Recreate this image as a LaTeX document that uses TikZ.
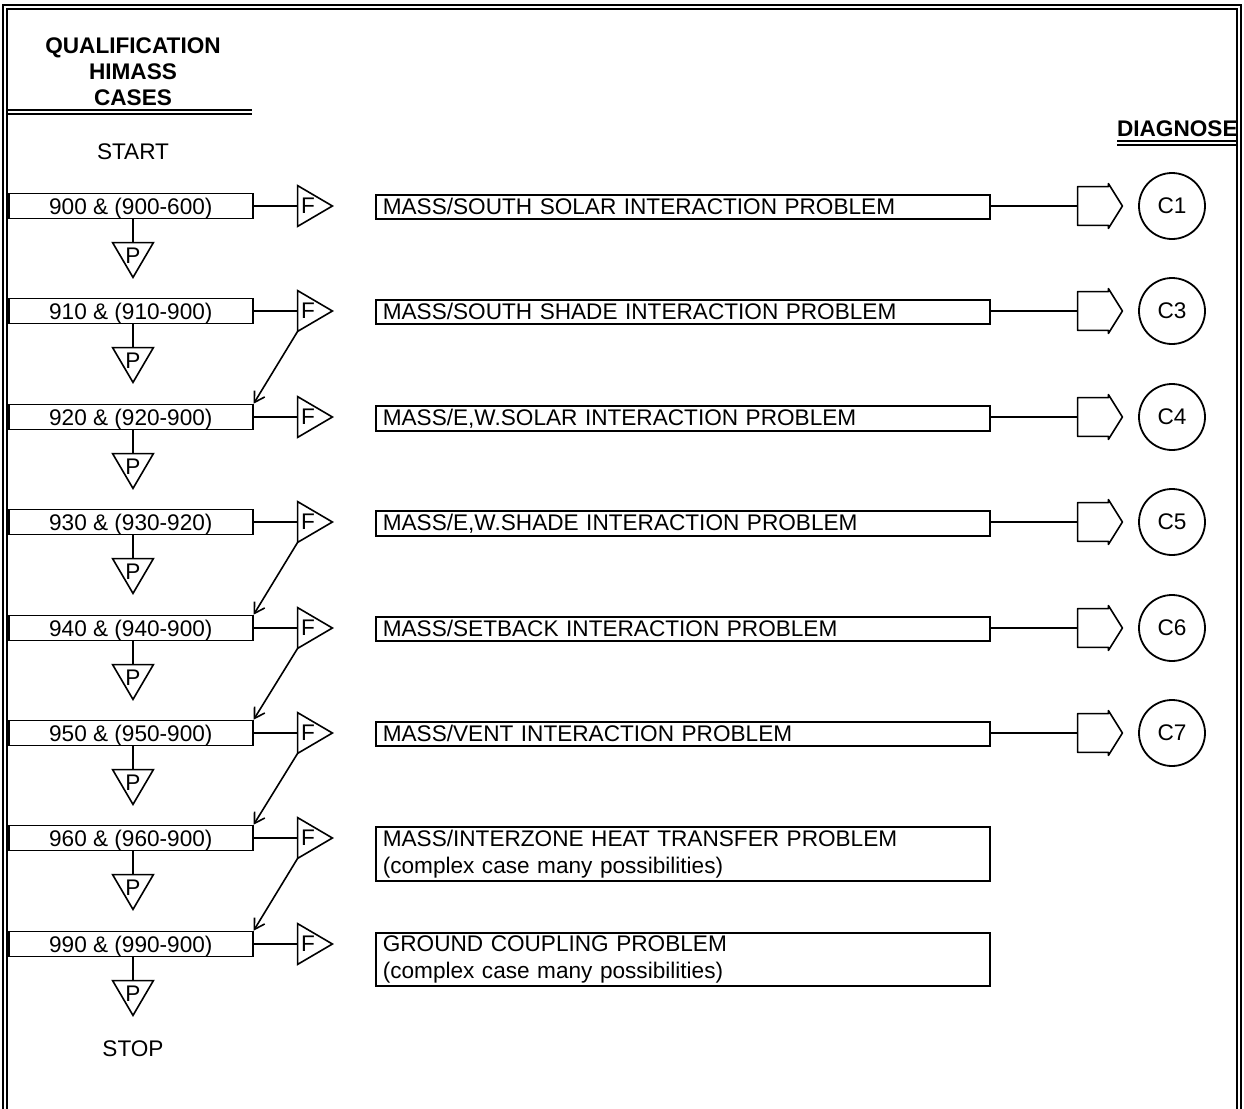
\documentclass[tikz,border=0pt]{standalone}
\usepackage{fontspec}
\setmainfont{Liberation Sans}
\usetikzlibrary{arrows.meta}
\newcommand{\chartfont}{\fontsize{11.3}{13.5}\selectfont}

\begin{document}
\begin{tikzpicture}[
    x=0.5pt, y=-0.5pt,
    every node/.style={font=\chartfont},
    casebox/.style={draw, line width=0.8pt, minimum width=122pt, minimum height=12.5pt, inner sep=0pt, text height=8pt, text depth=0pt, anchor=west},
    probbox/.style={draw, line width=0.8pt, anchor=north west, text width=300pt, inner xsep=3.5pt, inner ysep=1.5pt, minimum height=12pt, align=left},
    passtri/.style={minimum width=20pt, minimum height=17pt, inner sep=0pt, text height=8pt, text depth=5pt,
        append after command={\pgfextra{\draw[line width=0.8pt] (\tikzlastnode.north west) -- (\tikzlastnode.north east) -- (\tikzlastnode.south) -- cycle;}}},
    failtri/.style={minimum height=20pt, inner xsep=1.5pt, inner ysep=0pt, text width=14pt, align=left,
        append after command={\pgfextra{\draw[line width=0.8pt] (\tikzlastnode.north west) -- (\tikzlastnode.east) -- (\tikzlastnode.south west) -- cycle;}}},
    dgnbox/.style={minimum width=22pt, minimum height=19pt, inner sep=0pt,
        append after command={\pgfextra{\draw[line width=0.8pt, line join=round] (\tikzlastnode.north west) -- ([xshift=-7pt]\tikzlastnode.north east) -- ([xshift=-7pt, yshift=1.5pt]\tikzlastnode.north east) -- (\tikzlastnode.east) -- ([xshift=-7pt, yshift=-1.5pt]\tikzlastnode.south east) -- ([xshift=-7pt]\tikzlastnode.south east) -- (\tikzlastnode.south west) -- cycle;}}},
    codecirc/.style={circle, draw, line width=0.9pt, minimum size=33pt, inner sep=0pt},
    link/.style={line width=0.8pt},
    arr/.style={-{Straight Barb[length=5pt, width=6pt]}, line width=0.8pt}
]
\useasboundingbox (0,0) rectangle (1244,1109);

% double frame, open at the bottom
\draw[line width=1pt] (3,1109) |- (1241,5) -- (1241,1109);
\draw[line width=0.8pt] (7,1109) |- (1237,9) -- (1237,1109);

% column headings
\node[font=\fontsize{11.3}{13}\selectfont\bfseries, align=center, inner sep=0pt] (title) at (133,72) {QUALIFICATION\\HIMASS\\CASES};
\draw[line width=0.8pt] (7,110) -- (252,110);
\draw[line width=0.8pt] (7,114) -- (252,114);
\node[font=\chartfont\bfseries, inner sep=0pt, anchor=east] (diag) at (1238,129) {DIAGNOSE};
\draw[line width=0.8pt] (1117,141) -- (1237,141);
\draw[line width=0.8pt] (1117,145) -- (1237,145);

\node (start) at (133,152) {START};
\node (stop) at (133,1049) {STOP};

% test cases
\node[casebox] (b1) at (8,206) {900 \& (900-600)};
\node[casebox] (b2) at (8,311) {910 \& (910-900)};
\node[casebox] (b3) at (8,417) {920 \& (920-900)};
\node[casebox] (b4) at (8,522) {930 \& (930-920)};
\node[casebox] (b5) at (8,628) {940 \& (940-900)};
\node[casebox] (b6) at (8,733) {950 \& (950-900)};
\node[casebox] (b7) at (8,838) {960 \& (960-900)};
\node[casebox] (b8) at (8,944) {990 \& (990-900)};

% problem descriptions
\node[probbox] (m1) at (375,194) {MASS/SOUTH SOLAR INTERACTION PROBLEM};
\node[probbox] (m2) at (375,299) {MASS/SOUTH SHADE INTERACTION PROBLEM};
\node[probbox] (m3) at (375,405) {MASS/E,W.SOLAR INTERACTION PROBLEM};
\node[probbox] (m4) at (375,510) {MASS/E,W.SHADE INTERACTION PROBLEM};
\node[probbox] (m5) at (375,616) {MASS/SETBACK INTERACTION PROBLEM};
\node[probbox] (m6) at (375,721) {MASS/VENT INTERACTION PROBLEM};
\node[probbox] (m7) at (375,826) {MASS/INTERZONE HEAT TRANSFER PROBLEM\\(complex case many possibilities)};
\node[probbox] (m8) at (375,932) {GROUND COUPLING PROBLEM\\(complex case many possibilities)};

% pass / fail markers
\foreach \r/\y in {1/206, 2/311, 3/417, 4/522, 5/628, 6/733, 7/838, 8/944} {
    \node[passtri] (p\r) at (133,\y+54) {P};
    \node[failtri] (f\r) at (315,\y) {F};
    \draw[link] (b\r.south -| p\r.north) -- (p\r.north);
    \draw[link] (b\r) -- (f\r);
}

% fail leads on to the next case
\foreach \i/\j in {2/3, 4/5, 5/6, 6/7, 7/8} {
    \draw[arr] (f\i.south west) -- (b\j.north east);
}

% diagnostics
\foreach \r/\y/\c in {1/206/C1, 2/311/C3, 3/417/C4, 4/522/C5, 5/628/C6, 6/733/C7} {
    \node[dgnbox] (d\r) at (1100,\y) {};
    \node[codecirc] (c\r) at (1172,\y) {\c};
    \draw[link] (d\r.west -| m\r.east) -- (d\r.west);
}

\end{tikzpicture}
\end{document}
